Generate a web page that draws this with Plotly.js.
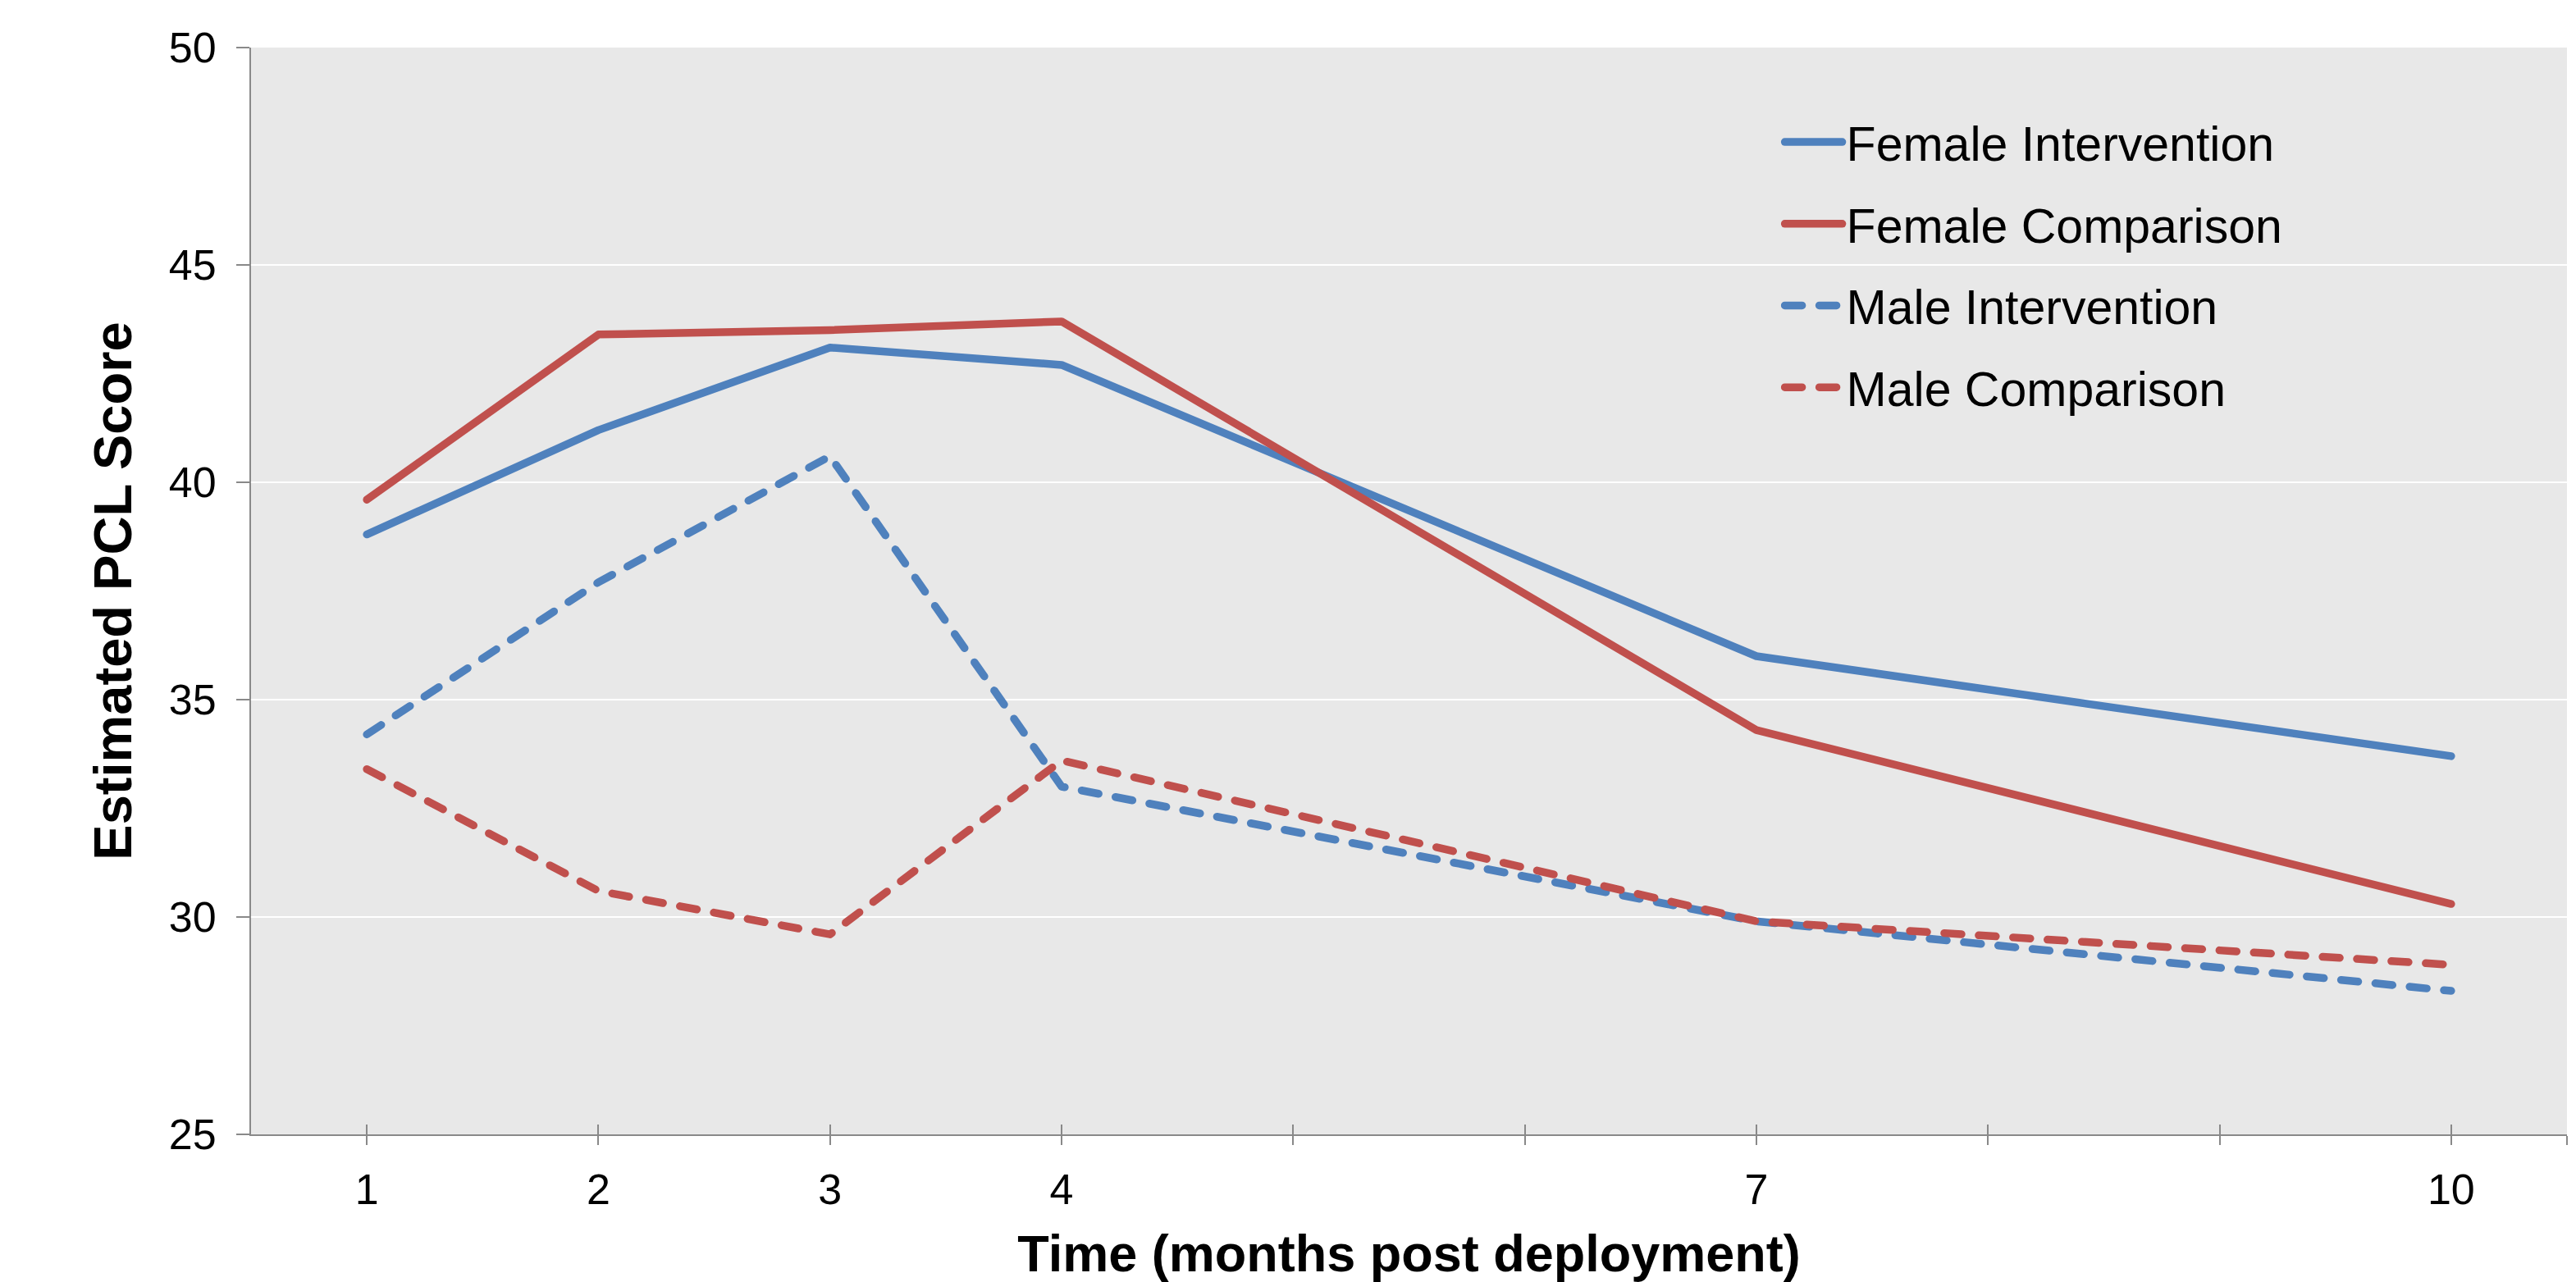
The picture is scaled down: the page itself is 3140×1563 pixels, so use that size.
<!DOCTYPE html>
<html>
<head>
<meta charset="utf-8">
<script src="https://cdn.plot.ly/plotly-3.0.1.min.js"></script>
<style>
html,body{margin:0;padding:0;background:#fff;}
#chart{width:3140px;height:1563px;}
#chart path.js-line{stroke-linecap:round !important;stroke-linejoin:round !important;}
#chart .legendlines path.js-line{stroke-width:9.5px !important;}
</style>
</head>
<body>
<div id="chart"></div>
<script>
// Data
const months = [1, 2, 3, 4, 7, 10];
const femaleIntervention = [38.8, 41.2, 43.1, 42.7, 36.0, 33.7];
const femaleComparison   = [39.6, 43.4, 43.5, 43.7, 34.3, 30.3];
const maleIntervention   = [34.2, 37.7, 40.6, 33.0, 29.9, 28.3];
const maleComparison     = [33.4, 30.6, 29.6, 33.6, 29.9, 28.9];

const seriesNames = ['Female Intervention', 'Female Comparison', 'Male Intervention', 'Male Comparison'];
const tickValues = [1, 2, 3, 4, 5, 6, 7, 8, 9, 10, 10.5];
const tickLabels = ['1', '2', '3', '4', '', '', '7', '', '', '10', ''];

const BLUE = '#4F81BD', RED = '#C0504D';
const FONT = 'Liberation Sans, Arial, sans-serif';

function mk(name, y, color, dash, grp) {
  return {
    type: 'scatter', mode: 'lines', name: name, x: months, y: y,
    legendgroup: grp,
    line: {color: color, width: 9.5, dash: dash},
    hoverinfo: 'skip'
  };
}

const traces = [
  mk(seriesNames[0], femaleIntervention, BLUE, 'solid', 'a'),
  mk(seriesNames[1], femaleComparison, RED, 'solid', 'b'),
  mk(seriesNames[2], maleIntervention, BLUE, '21px,21px', 'c'),
  mk(seriesNames[3], maleComparison, RED, '21px,21px', 'd')
];

const layout = {
  width: 3140, height: 1563,
  margin: {l: 306, r: 11, t: 58, b: 180, pad: 0},
  paper_bgcolor: '#ffffff',
  plot_bgcolor: '#e8e8e8',
  font: {family: FONT, color: '#000000', size: 52},
  showlegend: true,
  legend: {
    x: 0.6605, xanchor: 'left', y: 0.947, yanchor: 'top',
    bgcolor: 'rgba(0,0,0,0)', borderwidth: 0,
    font: {family: FONT, size: 59, color: '#000'},
    itemwidth: 70, tracegroupgap: 20, traceorder: 'grouped'
  },
  xaxis: {
    range: [0.5, 10.5], tickmode: 'array', tickvals: tickValues, ticktext: tickLabels,
    showgrid: false, zeroline: false,
    showline: true, linecolor: '#898989', linewidth: 2,
    ticks: 'outside', ticklen: 11, tickwidth: 2, tickcolor: '#898989',
    tickfont: {family: FONT, size: 52, color: '#000'},
    ticklabelstandoff: 10,
    title: {text: 'Time (months post deployment)', font: {family: FONT, size: 63, color: '#000', weight: 'bold'}, standoff: 34}
  },
  xaxis2: {
    overlaying: 'x', anchor: 'y', side: 'bottom', matches: 'x',
    range: [0.5, 10.5], tickmode: 'array', tickvals: tickValues,
    showticklabels: false, showgrid: false, zeroline: false, showline: false,
    ticks: 'inside', ticklen: 12, tickwidth: 2, tickcolor: '#898989'
  },
  yaxis: {
    range: [25, 50], tickmode: 'array', tickvals: [25, 30, 35, 40, 45, 50],
    showgrid: true, gridcolor: '#ffffff', gridwidth: 2, zeroline: false,
    showline: true, linecolor: '#898989', linewidth: 2,
    ticks: 'outside', ticklen: 16, tickwidth: 2, tickcolor: '#898989',
    tickfont: {family: FONT, size: 52, color: '#000'},
    ticklabelstandoff: 14,
    title: {text: 'Estimated PCL Score', font: {family: FONT, size: 65, color: '#000', weight: 'bold'}, standoff: 24}
  }
};

// invisible helper trace so xaxis2 is drawn
traces.push({type: 'scatter', mode: 'lines', x: [], y: [], xaxis: 'x2', yaxis: 'y', showlegend: false, hoverinfo: 'skip'});

Plotly.newPlot('chart', traces, layout, {staticPlot: true, displayModeBar: false});
</script>
</body>
</html>
